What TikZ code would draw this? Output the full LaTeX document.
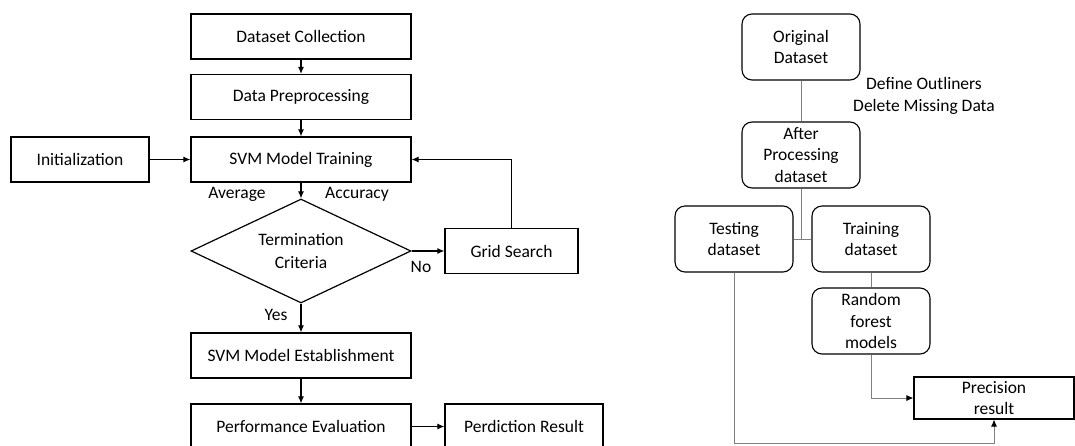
\documentclass[tikz,border=0pt]{standalone}
\usepackage{fontspec}
\setmainfont{Carlito}
\usepackage{xcolor}
\usepackage{tikz}
\usetikzlibrary{shapes,arrows,positioning,calc,arrows.meta}

\begin{document}
\begin{tikzpicture}[x=1pt, y=-1pt,
    font=\fontsize{17.5}{21.5}\selectfont,
    box/.style={draw, line width=1.2pt, minimum width=220pt, minimum height=45pt, inner sep=0pt, align=center},
    rbox/.style={draw, rounded corners=10pt, line width=1.1pt, minimum width=118pt, minimum height=66pt, inner sep=0pt, align=center},
    flow/.style={line width=1.1pt, -{Latex[length=7pt,width=6pt]}},
    link/.style={gray, line width=0.9pt},
    linkarrow/.style={gray, line width=0.9pt, -{Latex[length=7pt,width=6pt,black]}}]
    \useasboundingbox (0,0) rectangle (1075,445);

    % SVM flow
    \node[box] (collect) at (301,36.5) {Dataset Collection};
    \node[box] (prep) at (301,97) {Data Preprocessing};
    \node[box] (svmtrain) at (301,159.5) {SVM Model Training};
    \node[box, minimum width=138pt] (init) at (80,159.5) {Initialization};
    \node[draw, diamond, aspect=2.1, line width=1.2pt, minimum width=220pt, minimum height=104pt, inner sep=0pt, align=center, font=\fontsize{17.5}{23}\selectfont] (term) at (301,251) {Termination\\Criteria};
    \node[box, minimum width=133pt] (grid) at (511.5,251) {Grid Search};
    \node[box] (establish) at (301,355.5) {SVM Model Establishment};
    \node[box] (perf) at (301,426.5) {Performance Evaluation};
    \node[box, minimum width=158pt] (pred) at (524,426.5) {Perdiction Result};

    \node (avg) at (237,194) {Average};
    \node (acc) at (357,194) {Accuracy};
    \node (no) at (421,267) {No};
    \node (yes) at (276,315) {Yes};

    \draw[flow] (collect) -- (prep);
    \draw[flow] (prep) -- (svmtrain);
    \draw[flow] (init) -- (svmtrain);
    \draw[flow] (svmtrain) -- (term);
    \draw[flow] (term.east) -- (grid.west);
    \draw[flow] (grid.north) |- (svmtrain.east);
    \draw[flow] (term.south) -- (establish);
    \draw[flow] (establish) -- (perf);
    \draw[flow] (perf) -- (pred);

    % Random forest
    \node[rbox] (orig) at (801,47) {Original\\Dataset};
    \node[align=center] (define) at (924,96) {Define Outliners\\Delete Missing Data};
    \node[rbox] (after) at (801,155) {After\\Processing\\dataset};
    \node[rbox] (testset) at (734,239) {Testing\\dataset};
    \node[rbox] (trainset) at (871,239) {Training\\dataset};
    \node[rbox] (forest) at (871,321) {Random\\forest\\models};
    \node[draw, line width=1.1pt, minimum width=160pt, minimum height=42pt, inner sep=0pt, align=center] (prec) at (994,398) {Precision\\result};
    \coordinate (testcorner) at (734,443);

    \draw[link] (orig) -- (after);
    \draw[link] (after.south) -- (after.south |- testset.east);
    \draw[link] (testset.east) -- (trainset.west);
    \draw[link] (trainset) -- (forest);
    \draw[linkarrow] (forest.south) |- (prec.west);
    \draw[linkarrow] (testset.south) -- (testcorner) -| (prec.south);
\end{tikzpicture}
\end{document}
